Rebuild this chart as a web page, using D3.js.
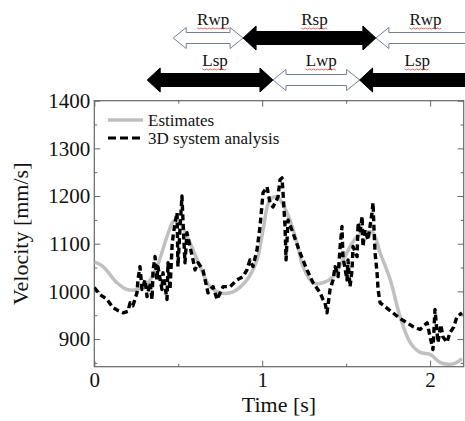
<!DOCTYPE html>
<html>
<head>
<meta charset="utf-8">
<script src="https://cdn.jsdelivr.net/npm/d3@7"></script>
<style>
  body { margin: 0; background: #fff; }
  svg, text { font-family: "Liberation Serif", "Times New Roman", serif; }
</style>
</head>
<body>
<div id="chart"></div>
<script>
// ---- data ----
// time [s] and velocity [mm/s] of the smooth estimate
const estTime = [0, 0.052, 0.135, 0.195, 0.254, 0.32, 0.373, 0.433, 0.469, 0.49, 0.51, 0.57, 0.63, 0.689, 0.748, 0.826, 0.909, 0.969, 1.005, 1.046, 1.088, 1.148, 1.207, 1.243, 1.303, 1.362, 1.422, 1.481, 1.565, 1.624, 1.66, 1.702, 1.762, 1.821, 1.881, 1.94, 2.0, 2.059, 2.107, 2.148, 2.189];
const estValues = [1062, 1052, 1018, 1004, 1004, 1018, 1052, 1115, 1146, 1150, 1144, 1102, 1052, 1010, 997, 999, 1024, 1066, 1129, 1192, 1198, 1165, 1102, 1052, 1018, 1018, 1031, 1066, 1115, 1125, 1123, 1081, 1025, 947, 893, 872, 868, 851, 847, 849, 859];

// 3D system analysis (measured, noisy)
const measTime = [0, 0.034, 0.052, 0.076, 0.111, 0.141, 0.171, 0.2, 0.213, 0.23, 0.254, 0.26, 0.272, 0.284, 0.302, 0.314, 0.332, 0.344, 0.35, 0.362, 0.373, 0.379, 0.403, 0.409, 0.433, 0.439, 0.451, 0.463, 0.469, 0.481, 0.493, 0.498, 0.51, 0.522, 0.528, 0.54, 0.552, 0.57, 0.588, 0.6, 0.618, 0.647, 0.677, 0.707, 0.731, 0.767, 0.809, 0.85, 0.886, 0.909, 0.927, 0.945, 0.969, 0.987, 1.005, 1.029, 1.046, 1.064, 1.094, 1.106, 1.118, 1.124, 1.136, 1.142, 1.154, 1.183, 1.225, 1.267, 1.303, 1.345, 1.362, 1.374, 1.386, 1.404, 1.422, 1.434, 1.452, 1.464, 1.475, 1.481, 1.505, 1.511, 1.523, 1.535, 1.541, 1.565, 1.571, 1.583, 1.595, 1.6, 1.612, 1.63, 1.642, 1.654, 1.66, 1.666, 1.672, 1.684, 1.69, 1.702, 1.732, 1.76, 1.779, 1.821, 1.863, 1.898, 1.94, 1.982, 2.0, 2.017, 2.029, 2.047, 2.064, 2.076, 2.1, 2.118, 2.14, 2.16, 2.19];
const measValues = [1008, 993, 989, 983, 966, 960, 955, 958, 976, 970, 997, 1024, 1052, 1004, 1024, 989, 1018, 983, 1045, 1073, 1024, 1052, 1004, 1039, 983, 1060, 1004, 1094, 1115, 1144, 1165, 1052, 1129, 1200, 1150, 1060, 1123, 1094, 1066, 1045, 1060, 1045, 997, 1010, 983, 1010, 1010, 1024, 1031, 1045, 1066, 1052, 1087, 1136, 1207, 1219, 1186, 1177, 1198, 1234, 1238, 1207, 1136, 1066, 1150, 1123, 1081, 1045, 1018, 997, 983, 976, 955, 1004, 1024, 1052, 1031, 1094, 1136, 1073, 1024, 1066, 1010, 1045, 1094, 1073, 1144, 1123, 1157, 1094, 1129, 1108, 1136, 1165, 1186, 1129, 1081, 1039, 1004, 976, 968, 960, 955, 943, 934, 926, 920, 934, 905, 878, 962, 893, 930, 905, 893, 913, 925, 947, 955];

// gait phases shown above the chart (start / end time in s)
const rightPhases = ["Rwp", "Rsp", "Rwp"];
const rightStart = [0.47, 0.886, 1.677];
const rightEnd = [0.886, 1.677, 2.3];
const leftPhases = ["Lsp", "Lwp", "Lsp"];
const leftStart = [0.315, 1.064, 1.58];
const leftEnd = [1.064, 1.58, 2.3];

const yMajor = [900, 1000, 1100, 1200, 1300, 1400];
const yMinor = [850, 950, 1050, 1150, 1250, 1350];
const xMajor = [0, 1, 2];
const xMinor = [0.5, 1.5];
const legendLabels = ["Estimates", "3D system analysis"];

// ---- layout ----
const width = 465, height = 421;
const plot = { left: 94.3, right: 463.7, top: 100.7, bottom: 366.7 };
const axisColor = "#666";
const serif = "'Liberation Serif', 'Times New Roman', serif";

const x = d3.scaleLinear().domain([0, 2.2]).range([plot.left, plot.right]);
const y = d3.scaleLinear().domain([842, 1400]).range([plot.bottom, plot.top]);

const svg = d3.select("#chart").append("svg")
    .attr("width", width)
    .attr("height", height)
    .style("font-family", serif);

// clip the data to the plot box
svg.append("clipPath").attr("id", "plotclip")
  .append("rect")
    .attr("x", plot.left).attr("y", plot.top)
    .attr("width", plot.right - plot.left).attr("height", plot.bottom - plot.top);

// ---- axes, ticks point inward ----
function styleAxis(g) {
  g.attr("font-family", null);
  g.select(".domain").remove();
  g.selectAll("line").attr("stroke", axisColor);
  g.selectAll("text")
    .style("font-family", serif)
    .attr("font-size", 21)
    .attr("fill", "#111");
}

svg.append("g").attr("transform", `translate(${plot.left},0)`)
    .call(d3.axisLeft(y).tickValues(yMajor).tickSize(-6).tickPadding(4).tickFormat(d3.format("d")))
    .call(styleAxis);
svg.append("g").attr("transform", `translate(${plot.left},0)`)
    .call(d3.axisLeft(y).tickValues(yMinor).tickSize(-3).tickFormat(""))
    .call(styleAxis);
svg.append("g").attr("transform", `translate(${plot.right},0)`)
    .call(d3.axisRight(y).tickValues(yMajor).tickSize(-6).tickFormat(""))
    .call(styleAxis);
svg.append("g").attr("transform", `translate(${plot.right},0)`)
    .call(d3.axisRight(y).tickValues(yMinor).tickSize(-3).tickFormat(""))
    .call(styleAxis);

svg.append("g").attr("transform", `translate(0,${plot.bottom})`)
    .call(d3.axisBottom(x).tickValues(xMajor).tickSize(-6).tickPadding(5).tickFormat(d3.format("d")))
    .call(styleAxis);
svg.append("g").attr("transform", `translate(0,${plot.bottom})`)
    .call(d3.axisBottom(x).tickValues(xMinor).tickSize(-3).tickFormat(""))
    .call(styleAxis);
svg.append("g").attr("transform", `translate(0,${plot.top})`)
    .call(d3.axisTop(x).tickValues(xMajor).tickSize(-6).tickFormat(""))
    .call(styleAxis);
svg.append("g").attr("transform", `translate(0,${plot.top})`)
    .call(d3.axisTop(x).tickValues(xMinor).tickSize(-3).tickFormat(""))
    .call(styleAxis);

// frame
svg.append("rect")
    .attr("x", plot.left).attr("y", plot.top)
    .attr("width", plot.right - plot.left).attr("height", plot.bottom - plot.top)
    .attr("fill", "none")
    .attr("stroke", axisColor)
    .attr("stroke-width", 1.2);

// ---- lines ----
const line = d3.line().curve(d3.curveCatmullRom.alpha(0.5));
const lineSharp = d3.line();

svg.append("path")
    .attr("clip-path", "url(#plotclip)")
    .attr("d", line(estTime.map((t, i) => [x(t), y(estValues[i])])))
    .attr("fill", "none")
    .attr("stroke", "#c0c0c0")
    .attr("stroke-width", 3.5);

svg.append("path")
    .attr("clip-path", "url(#plotclip)")
    .attr("d", lineSharp(measTime.map((t, i) => [x(t), y(measValues[i])])))
    .attr("fill", "none")
    .attr("stroke", "#000")
    .attr("stroke-width", 3.4)
    .attr("stroke-dasharray", "6,3.5")
    .attr("stroke-linejoin", "round");

// ---- legend ----
const legend = svg.append("g").attr("transform", "translate(108,120)");
legend.append("line").attr("x1", 0).attr("x2", 35).attr("y1", 0).attr("y2", 0)
    .attr("stroke", "#c0c0c0").attr("stroke-width", 3.5);
legend.append("line").attr("x1", 0).attr("x2", 35).attr("y1", 18).attr("y2", 18)
    .attr("stroke", "#000").attr("stroke-width", 3.2).attr("stroke-dasharray", "8,4");
legend.selectAll("text")
  .data(legendLabels)
  .join("text")
    .attr("x", 40)
    .attr("y", (d, i) => 6 + i * 18)
    .attr("font-size", 17)
    .attr("fill", "#111")
    .text(d => d);

// ---- axis titles ----
svg.append("text")
    .attr("transform", `translate(28,${(plot.top + plot.bottom) / 2}) rotate(-90)`)
    .attr("text-anchor", "middle")
    .attr("font-size", 22)
    .attr("fill", "#111")
    .text("Velocity [mm/s]");
svg.append("text")
    .attr("x", (plot.left + plot.right) / 2)
    .attr("y", 412)
    .attr("text-anchor", "middle")
    .attr("font-size", 22)
    .attr("fill", "#111")
    .text("Time [s]");

// ---- gait phase arrows ----
function arrowPath(x0, x1, cy, head, hh, sh) {
  return `M${x0},${cy} L${x0 + head},${cy - hh} L${x0 + head},${cy - sh} L${x1 - head},${cy - sh}` +
         ` L${x1 - head},${cy - hh} L${x1},${cy} L${x1 - head},${cy + hh} L${x1 - head},${cy + sh}` +
         ` L${x0 + head},${cy + sh} L${x0 + head},${cy + hh} Z`;
}

function drawPhases(names, starts, ends, cy, labelY) {
  const g = svg.append("g");
  names.forEach((name, i) => {
    const x0 = x(starts[i]), x1 = x(ends[i]);
    const solid = name.endsWith("sp");
    g.append("path")
        .attr("d", arrowPath(x0, x1, cy, 13, solid ? 12 : 10.5, solid ? 6.5 : 5.5))
        .attr("fill", solid ? "#000" : "#fff")
        .attr("stroke", solid ? "#000" : "#6f7f96")
        .attr("stroke-width", 1);
    const cx = (x0 + Math.min(x1, width)) / 2 + 5;
    const label = g.append("text")
        .attr("x", cx)
        .attr("y", labelY)
        .attr("text-anchor", "middle")
        .attr("font-size", 17)
        .attr("fill", "#111")
        .text(name);
    // spell-check squiggle under the label
    const w = label.node().getComputedTextLength();
    const pts = d3.range(0, w + 0.1, 2).map((d, k) => [cx - w / 2 + d, labelY + 3 + (k % 2 ? 1 : 0)]);
    g.append("path")
        .attr("d", d3.line()(pts))
        .attr("fill", "none")
        .attr("stroke", "#e0403a")
        .attr("stroke-width", 0.8);
  });
}

drawPhases(rightPhases, rightStart, rightEnd, 38, 25);
drawPhases(leftPhases, leftStart, leftEnd, 80, 66);
</script>
</body>
</html>
